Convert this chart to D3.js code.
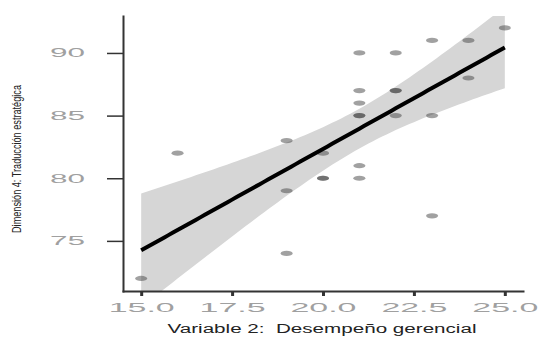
<!DOCTYPE html>
<html>
<head>
<meta charset="utf-8">
<script src="https://cdn.jsdelivr.net/npm/d3@7"></script>
<style>
  body { margin: 0; background: #fff; }
  svg { display: block; font-family: "Liberation Sans", Arial, sans-serif; }
</style>
</head>
<body>
<svg id="drawing_region"></svg>
<script>
// data
const desempeno = [25, 23, 24, 21, 22, 21, 22, 22, 24, 21, 21, 21, 22, 23, 19, 16, 20, 21, 20, 20, 21, 19, 23, 19, 15];
const traduccion = [92, 91, 91, 90, 90, 87, 87, 87, 88, 86, 85, 85, 85, 85, 83, 82, 82, 81, 80, 80, 80, 79, 77, 74, 72];
const xTicks = [15, 17.5, 20, 22.5, 25];
const yTicks = [75, 80, 85, 90];
const xTitle = "Variable 2:  Desempeño gerencial";
const yTitle = "Dimensión 4: Traducción estratégica";

const data = desempeno.map((d, i) => ({ x: d, y: traduccion[i] }));

const config = {
    width: 540,
    height: 338,
    left: 123, right: 523, top: 16, bottom: 291
};

const svg = d3.select('#drawing_region')
    .attr('width', config.width)
    .attr('height', config.height);

const xscale = d3.scaleLinear().domain([14.5, 25.5]).range([config.left, config.right]);
const yscale = d3.scaleLinear().domain([71.0, 92.95]).range([config.bottom, config.top]);

// linear fit (lm) + 95% confidence band
const n = data.length;
const mx = d3.mean(data, d => d.x);
const my = d3.mean(data, d => d.y);
const sxx = d3.sum(data, d => (d.x - mx) ** 2);
const sxy = d3.sum(data, d => (d.x - mx) * (d.y - my));
const slope = sxy / sxx;
const icpt = my - slope * mx;
const sse = d3.sum(data, d => (d.y - icpt - slope * d.x) ** 2);
const s = Math.sqrt(sse / (n - 2));
const tq = 2.0687; // t(0.975, 23)
const xmin = d3.min(desempeno), xmax = d3.max(desempeno);
const band = d3.range(0, 81).map(i => {
    const x = xmin + (xmax - xmin) * i / 80;
    const fit = icpt + slope * x;
    const se = s * Math.sqrt(1 / n + (x - mx) ** 2 / sxx);
    return { x: x, fit: fit, lo: fit - tq * se, hi: fit + tq * se };
});

svg.append('clipPath').attr('id', 'panel')
    .append('rect')
    .attr('x', config.left).attr('y', config.top)
    .attr('width', config.right - config.left)
    .attr('height', config.bottom - config.top);

const chart = svg.append('g').attr('clip-path', 'url(#panel)');

chart.append('path')
    .datum(band)
    .attr('fill', '#d6d6d6')
    .attr('d', d3.area().x(d => xscale(d.x)).y0(d => yscale(d.lo)).y1(d => yscale(d.hi)));

chart.selectAll('ellipse')
    .data(data)
    .enter()
    .append('ellipse')
    .attr('cx', d => xscale(d.x))
    .attr('cy', d => yscale(d.y))
    .attr('rx', 6)
    .attr('ry', 2.6)
    .attr('fill', '#444')
    .attr('fill-opacity', 0.5);

chart.append('path')
    .datum(band)
    .attr('fill', 'none')
    .attr('stroke', '#000')
    .attr('stroke-width', 4)
    .attr('d', d3.line().x(d => xscale(d.x)).y(d => yscale(d.fit)));

// axes
const xaxis = d3.axisBottom(xscale).tickValues(xTicks).tickSize(5).tickSizeOuter(0).tickFormat(d3.format('.1f'));
const yaxis = d3.axisLeft(yscale).tickValues(yTicks).tickSize(16).tickSizeOuter(0);

const xg = svg.append('g')
    .attr('transform', `translate(0, ${config.bottom})`)
    .call(xaxis);
xg.select('.domain').attr('stroke', '#333').attr('stroke-width', 2);
xg.selectAll('.tick line').attr('stroke', '#333').attr('stroke-width', 3);
xg.selectAll('.tick text')
    .attr('y', 21)
    .attr('dy', 0)
    .attr('fill', '#a0a0a0')
    .attr('font-size', 13)
    .attr('textLength', 66)
    .attr('lengthAdjust', 'spacingAndGlyphs');

const yg = svg.append('g')
    .attr('transform', `translate(${config.left}, 0)`)
    .call(yaxis);
yg.select('.domain').attr('stroke', '#333').attr('stroke-width', 2);
yg.selectAll('.tick line').attr('stroke', '#333').attr('stroke-width', 1.5);
yg.selectAll('.tick text')
    .attr('x', -38)
    .attr('fill', '#a0a0a0')
    .attr('font-size', 12)
    .attr('textLength', 35)
    .attr('lengthAdjust', 'spacingAndGlyphs');
svg.selectAll('.domain').attr('stroke-linecap', 'square');

// titles
svg.append('text')
    .attr('x', 322)
    .attr('y', 333)
    .attr('text-anchor', 'middle')
    .attr('font-size', 12)
    .attr('fill', '#222')
    .attr('textLength', 309)
    .attr('lengthAdjust', 'spacingAndGlyphs')
    .style('white-space', 'pre')
    .text(xTitle);

svg.append('text')
    .attr('transform', 'translate(21, 159) rotate(-90)')
    .attr('text-anchor', 'middle')
    .attr('font-size', 13.5)
    .attr('fill', '#222')
    .attr('textLength', 148)
    .attr('lengthAdjust', 'spacingAndGlyphs')
    .text(yTitle);
</script>
</body>
</html>
